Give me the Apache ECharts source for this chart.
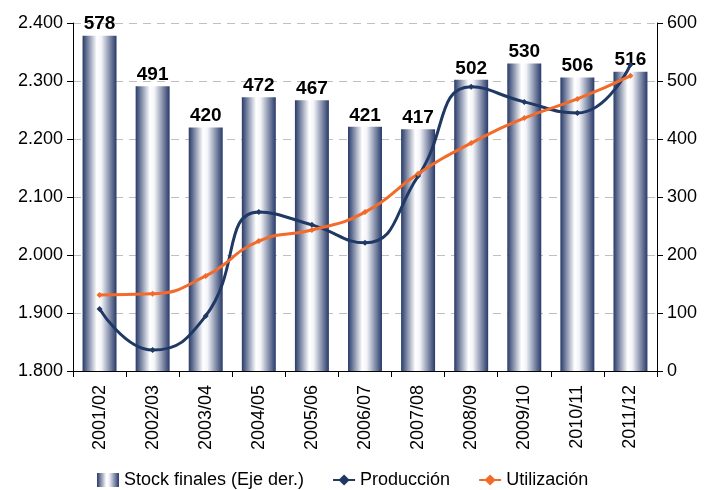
<!DOCTYPE html>
<html><head><meta charset="utf-8">
<script src="https://cdn.jsdelivr.net/npm/echarts@6/dist/echarts.min.js"></script>
<style>html,body{margin:0;padding:0;background:#fff}#c{width:705px;height:490px}</style>
</head><body><div id="c"></div>
<script>
var categories = ['2001/02','2002/03','2003/04','2004/05','2005/06','2006/07','2007/08','2008/09','2009/10','2010/11','2011/12'];
var stock = [578,491,420,472,467,421,417,502,530,506,516];
var produccion = [1907,1836,1895,2074,2052,2021,2136,2290,2264,2245,2328];
var utilizacion = [1931,1933,1964,2024,2043,2074,2140,2193,2236,2269,2309];

var font = 'Liberation Sans, Arial, sans-serif';
var barGrad = new echarts.graphic.LinearGradient(0,0,1,0,[
  {offset:0,color:'#283a69'},{offset:0.42,color:'#ffffff'},{offset:0.55,color:'#f4f5f9'},{offset:1,color:'#283a69'}]);
var chart = echarts.init(document.getElementById('c'));
chart.setOption({
  animation:false,
  textStyle:{fontFamily:font},
  grid:{left:73,right:48,top:23,bottom:119,containLabel:false},
  legend:{top:466,left:92,itemGap:28,itemWidth:22,itemHeight:14,
    textStyle:{fontSize:18,color:'#000',fontFamily:font},
    data:[{name:'Stock finales (Eje der.)',icon:'rect',itemStyle:{color:barGrad}},'Producción','Utilización']},
  xAxis:{type:'category',data:categories,
    axisLine:{lineStyle:{color:'#000',width:1}},
    axisTick:{show:true,alignWithLabel:false,length:6,lineStyle:{color:'#000'}},
    axisLabel:{rotate:90,fontSize:18,color:'#000',margin:14,fontFamily:font}},
  yAxis:[
    {type:'value',min:1800,max:2400,interval:100,position:'left',
     axisLine:{show:true,lineStyle:{color:'#000'}},
     axisTick:{show:true,length:6,lineStyle:{color:'#000'}},
     splitLine:{show:true,lineStyle:{color:'#c0c0c0',type:[8,6]}},
     axisLabel:{fontSize:18,color:'#000',margin:10,fontFamily:font,
       formatter:function(v){var s=String(v);return s.slice(0,1)+'.'+s.slice(1);}}},
    {type:'value',min:0,max:600,interval:100,position:'right',
     axisLine:{show:true,lineStyle:{color:'#000'}},
     axisTick:{show:true,length:6,lineStyle:{color:'#000'}},
     splitLine:{show:false},
     axisLabel:{fontSize:18,color:'#000',margin:10,fontFamily:font}}
  ],
  series:[
    {name:'Stock finales (Eje der.)',type:'bar',yAxisIndex:1,data:stock,barWidth:'64%',
     itemStyle:{color:barGrad},
     label:{show:true,position:'top',distance:2,fontSize:19,fontWeight:'bold',color:'#000',fontFamily:font}},
    {name:'Producción',type:'line',yAxisIndex:0,data:produccion,smooth:0.5,
     symbol:'diamond',symbolSize:6,
     lineStyle:{color:'#1f3864',width:3},itemStyle:{color:'#1f3864'}},
    {name:'Utilización',type:'line',yAxisIndex:0,data:utilizacion,smooth:0.5,
     symbol:'diamond',symbolSize:6,
     lineStyle:{color:'#f36b2b',width:3},itemStyle:{color:'#f36b2b'}}
  ]
});
</script></body></html>
